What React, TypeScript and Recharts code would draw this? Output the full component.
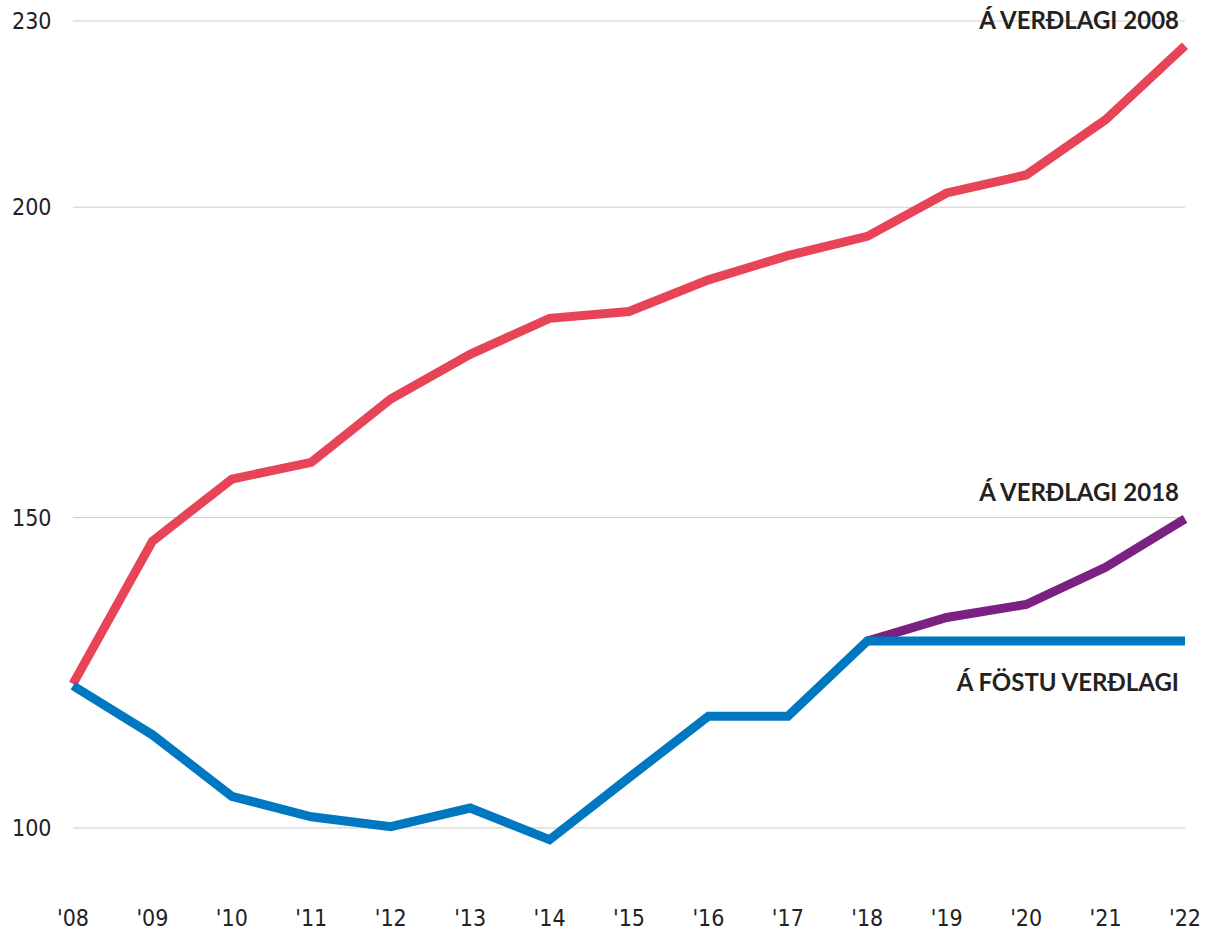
import React from "react"
import { LineChart, Line, XAxis, YAxis, CartesianGrid } from "recharts"

const years = ["'08", "'09", "'10", "'11", "'12", "'13", "'14", "'15", "'16", "'17", "'18", "'19", "'20", "'21", "'22"]
// á verðlagi 2008
const verdlag2008 = [123.2, 146.2, 156.2, 158.9, 169.1, 176.3, 182.1, 183.2, 188.3, 192.2, 195.3, 202.3, 205.2, 214.1, 226.0]
// á verðlagi 2018 (only from '18)
const verdlag2018 = [null, null, null, null, null, null, null, null, null, null, 130.1, 133.9, 136.0, 142.0, 149.8]
// á föstu verðlagi
const fostuVerdlagi = [122.9, 115.0, 105.1, 101.8, 100.2, 103.2, 98.1, 108.1, 118.0, 118.0, 130.1, 130.1, 130.1, 130.1, 130.1]
const yTicks = [100, 150, 200, 230]

const RED = "#e84458"
const PURPLE = "#7a2182"
const BLUE = "#0078c1"

const data = years.map((y, i) => ({
  year: y,
  v2008: verdlag2008[i],
  v2018: verdlag2018[i],
  fast: fostuVerdlagi[i],
}))

const tickFont = "'Liberation Sans Narrow', 'DejaVu Sans Condensed', Roboto, sans-serif"

const YTick = (props: any) => (
  <text x={12} y={props.y} dominantBaseline="central" fontFamily={tickFont} fontSize={23} fill="#222">
    {props.payload.value}
  </text>
)

const XTick = (props: any) => (
  <text x={props.x} y={918} textAnchor="middle" dominantBaseline="central" fontFamily={tickFont} fontSize={23} fill="#222">
    {props.payload.value}
  </text>
)

const labelStyle = { fontFamily: "Lato", fontWeight: 700, fontSize: 24, fill: "#222" }

export default function App() {
  return (
    <div style={{ position: "absolute", left: 0, top: 0, width: 1216, height: 933, background: "#fff" }}>
      <LineChart width={1216} height={933} data={data} margin={{ top: 21, right: 31, bottom: 13, left: 0 }}>
        <CartesianGrid vertical={false} horizontalValues={yTicks} stroke="#cccccc" />
        <XAxis dataKey="year" height={30} axisLine={false} tickLine={false} tick={<XTick />} interval={0} />
        <YAxis width={73} type="number" domain={[90, 230]} ticks={yTicks} axisLine={false} tickLine={false} tick={<YTick />} />
        <Line type="linear" dataKey="v2008" stroke={RED} strokeWidth={9} strokeLinecap="butt" dot={false} activeDot={false} isAnimationActive={false} />
        <Line type="linear" dataKey="v2018" stroke={PURPLE} strokeWidth={9} strokeLinecap="butt" dot={false} activeDot={false} isAnimationActive={false} />
        <Line type="linear" dataKey="fast" stroke={BLUE} strokeWidth={9} strokeLinecap="butt" dot={false} activeDot={false} isAnimationActive={false} />
      </LineChart>
      <svg width={1216} height={933} style={{ position: "absolute", left: 0, top: 0, pointerEvents: "none" }}>
        <text x={1179} y={29} textAnchor="end" style={labelStyle}>Á VERÐLAGI 2008</text>
        <text x={1179} y={501} textAnchor="end" style={labelStyle}>Á VERÐLAGI 2018</text>
        <text x={1179} y={691} textAnchor="end" style={labelStyle}>Á FÖSTU VERÐLAGI</text>
      </svg>
    </div>
  )
}
